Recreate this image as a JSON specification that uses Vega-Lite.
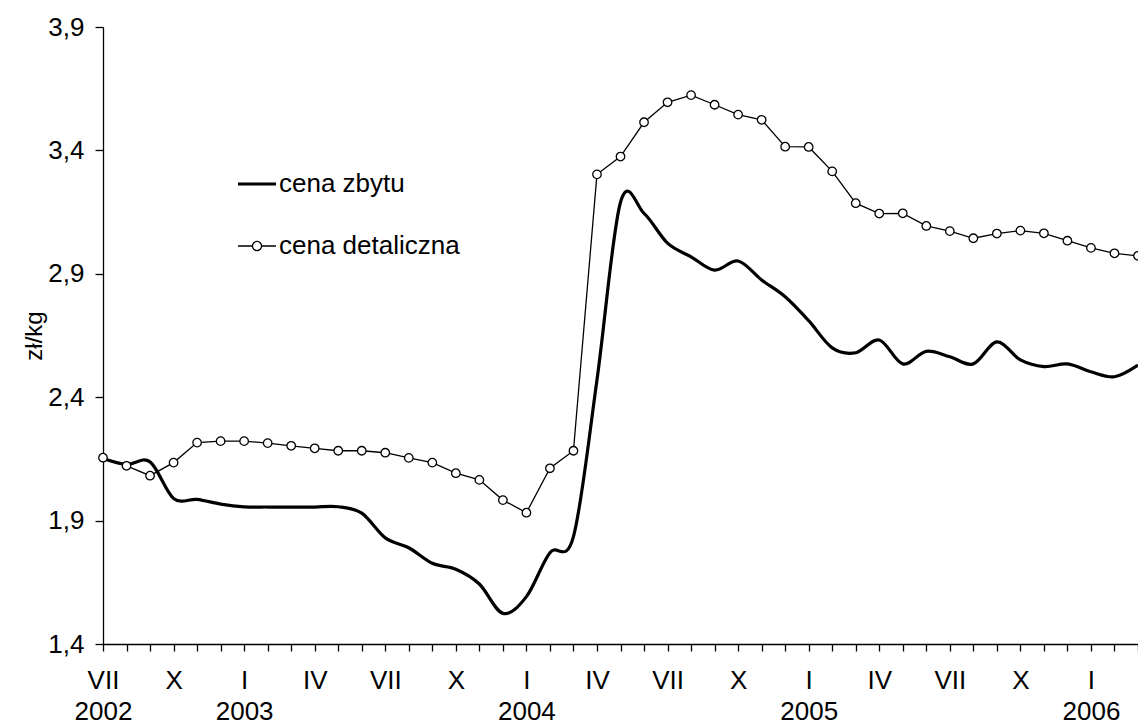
{
  "$schema": "https://vega.github.io/schema/vega-lite/v6.json",
  "width": 1035,
  "height": 617,
  "autosize": {"type": "none"},
  "padding": {"left": 103, "top": 27, "right": 0, "bottom": 80},
  "background": "white",
  "config": {
    "font": "Liberation Sans",
    "view": {"stroke": null},
    "axis": {
      "grid": false,
      "domainColor": "black",
      "domainWidth": 1.3,
      "tickColor": "black",
      "tickWidth": 1.3,
      "labelColor": "black",
      "labelFont": "Liberation Sans",
      "labelFontSize": 26,
      "titleFont": "Liberation Sans",
      "titleColor": "black",
      "titleFontWeight": "normal"
    }
  },
  "data": {
    "values": [
      {"m": 0, "s": "cena zbytu", "v": 2.152},
      {"m": 1, "s": "cena zbytu", "v": 2.128},
      {"m": 2, "s": "cena zbytu", "v": 2.138},
      {"m": 3, "s": "cena zbytu", "v": 1.99},
      {"m": 4, "s": "cena zbytu", "v": 1.986},
      {"m": 5, "s": "cena zbytu", "v": 1.967},
      {"m": 6, "s": "cena zbytu", "v": 1.956},
      {"m": 7, "s": "cena zbytu", "v": 1.955},
      {"m": 8, "s": "cena zbytu", "v": 1.955},
      {"m": 9, "s": "cena zbytu", "v": 1.955},
      {"m": 10, "s": "cena zbytu", "v": 1.956},
      {"m": 11, "s": "cena zbytu", "v": 1.93},
      {"m": 12, "s": "cena zbytu", "v": 1.83},
      {"m": 13, "s": "cena zbytu", "v": 1.79},
      {"m": 14, "s": "cena zbytu", "v": 1.727},
      {"m": 15, "s": "cena zbytu", "v": 1.703},
      {"m": 16, "s": "cena zbytu", "v": 1.643},
      {"m": 17, "s": "cena zbytu", "v": 1.524},
      {"m": 18, "s": "cena zbytu", "v": 1.592},
      {"m": 19, "s": "cena zbytu", "v": 1.77},
      {"m": 20, "s": "cena zbytu", "v": 1.835},
      {"m": 21, "s": "cena zbytu", "v": 2.47},
      {"m": 22, "s": "cena zbytu", "v": 3.19},
      {"m": 23, "s": "cena zbytu", "v": 3.145},
      {"m": 24, "s": "cena zbytu", "v": 3.024},
      {"m": 25, "s": "cena zbytu", "v": 2.969},
      {"m": 26, "s": "cena zbytu", "v": 2.915},
      {"m": 27, "s": "cena zbytu", "v": 2.952},
      {"m": 28, "s": "cena zbytu", "v": 2.875},
      {"m": 29, "s": "cena zbytu", "v": 2.807},
      {"m": 30, "s": "cena zbytu", "v": 2.71},
      {"m": 31, "s": "cena zbytu", "v": 2.6},
      {"m": 32, "s": "cena zbytu", "v": 2.58},
      {"m": 33, "s": "cena zbytu", "v": 2.632},
      {"m": 34, "s": "cena zbytu", "v": 2.535},
      {"m": 35, "s": "cena zbytu", "v": 2.586},
      {"m": 36, "s": "cena zbytu", "v": 2.564},
      {"m": 37, "s": "cena zbytu", "v": 2.535},
      {"m": 38, "s": "cena zbytu", "v": 2.624},
      {"m": 39, "s": "cena zbytu", "v": 2.551},
      {"m": 40, "s": "cena zbytu", "v": 2.524},
      {"m": 41, "s": "cena zbytu", "v": 2.535},
      {"m": 42, "s": "cena zbytu", "v": 2.503},
      {"m": 43, "s": "cena zbytu", "v": 2.483},
      {"m": 44, "s": "cena zbytu", "v": 2.53},
      {"m": 0, "s": "cena detaliczna", "v": 2.155},
      {"m": 1, "s": "cena detaliczna", "v": 2.122},
      {"m": 2, "s": "cena detaliczna", "v": 2.082},
      {"m": 3, "s": "cena detaliczna", "v": 2.135},
      {"m": 4, "s": "cena detaliczna", "v": 2.216},
      {"m": 5, "s": "cena detaliczna", "v": 2.222},
      {"m": 6, "s": "cena detaliczna", "v": 2.222},
      {"m": 7, "s": "cena detaliczna", "v": 2.214},
      {"m": 8, "s": "cena detaliczna", "v": 2.203},
      {"m": 9, "s": "cena detaliczna", "v": 2.193},
      {"m": 10, "s": "cena detaliczna", "v": 2.183},
      {"m": 11, "s": "cena detaliczna", "v": 2.183},
      {"m": 12, "s": "cena detaliczna", "v": 2.175},
      {"m": 13, "s": "cena detaliczna", "v": 2.154},
      {"m": 14, "s": "cena detaliczna", "v": 2.135},
      {"m": 15, "s": "cena detaliczna", "v": 2.092},
      {"m": 16, "s": "cena detaliczna", "v": 2.065},
      {"m": 17, "s": "cena detaliczna", "v": 1.983},
      {"m": 18, "s": "cena detaliczna", "v": 1.932},
      {"m": 19, "s": "cena detaliczna", "v": 2.112},
      {"m": 20, "s": "cena detaliczna", "v": 2.183},
      {"m": 21, "s": "cena detaliczna", "v": 3.303},
      {"m": 22, "s": "cena detaliczna", "v": 3.375},
      {"m": 23, "s": "cena detaliczna", "v": 3.514},
      {"m": 24, "s": "cena detaliczna", "v": 3.595},
      {"m": 25, "s": "cena detaliczna", "v": 3.624},
      {"m": 26, "s": "cena detaliczna", "v": 3.585},
      {"m": 27, "s": "cena detaliczna", "v": 3.545},
      {"m": 28, "s": "cena detaliczna", "v": 3.524},
      {"m": 29, "s": "cena detaliczna", "v": 3.415},
      {"m": 30, "s": "cena detaliczna", "v": 3.414},
      {"m": 31, "s": "cena detaliczna", "v": 3.315},
      {"m": 32, "s": "cena detaliczna", "v": 3.186},
      {"m": 33, "s": "cena detaliczna", "v": 3.144},
      {"m": 34, "s": "cena detaliczna", "v": 3.145},
      {"m": 35, "s": "cena detaliczna", "v": 3.094},
      {"m": 36, "s": "cena detaliczna", "v": 3.073},
      {"m": 37, "s": "cena detaliczna", "v": 3.044},
      {"m": 38, "s": "cena detaliczna", "v": 3.063},
      {"m": 39, "s": "cena detaliczna", "v": 3.075},
      {"m": 40, "s": "cena detaliczna", "v": 3.064},
      {"m": 41, "s": "cena detaliczna", "v": 3.034},
      {"m": 42, "s": "cena detaliczna", "v": 3.005},
      {"m": 43, "s": "cena detaliczna", "v": 2.983},
      {"m": 44, "s": "cena detaliczna", "v": 2.973}
    ]
  },
  "encoding": {
    "x": {
      "field": "m",
      "type": "quantitative",
      "scale": {"domain": [0, 44], "nice": false, "zero": false},
      "axis": {
        "title": null,
        "values": [0,1,2,3,4,5,6,7,8,9,10,11,12,13,14,15,16,17,18,19,20,21,22,23,24,25,26,27,28,29,30,31,32,33,34,35,36,37,38,39,40,41,42,43,44],
        "tickSize": 7,
        "labelPadding": 16,
        "labelBaseline": "top",
        "labelLineHeight": 31,
        "labelFlush": false,
        "labelOverlap": false,
        "labelExpr": "datum.value == 0 ? ['VII','2002'] : datum.value % 12 == 6 ? ['I', '' + (2002 + (datum.value + 6) / 12)] : datum.value % 12 == 9 ? 'IV' : datum.value % 12 == 0 ? 'VII' : datum.value % 12 == 3 ? 'X' : ''"
      }
    },
    "y": {
      "field": "v",
      "type": "quantitative",
      "scale": {"domain": [1.4, 3.9], "nice": false, "zero": false},
      "axis": {
        "title": "zł/kg",
        "titleFontSize": 24,
        "titlePadding": 1,
        "values": [1.4, 1.9, 2.4, 2.9, 3.4, 3.9],
        "tickSize": 8,
        "labelPadding": 11,
        "labelExpr": "replace(format(datum.value, '.1f'), '.', ',')"
      }
    }
  },
  "layer": [
    {
      "transform": [{"filter": "datum.s == 'cena detaliczna'"}],
      "mark": {"type": "line", "color": "black", "strokeWidth": 1.3},
      "encoding": {}
    },
    {
      "transform": [{"filter": "datum.s == 'cena zbytu'"}],
      "mark": {"type": "line", "strokeWidth": 3.2, "interpolate": "cardinal", "tension": 0},
      "encoding": {
        "color": {
          "field": "s",
          "type": "nominal",
          "scale": {"domain": ["cena zbytu", "cena detaliczna"], "range": ["black", "black"]},
          "legend": {
            "title": null,
            "orient": "none",
            "legendX": 141,
            "legendY": 144,
            "padding": 0,
            "rowPadding": 36,
            "labelOffset": 9,
            "labelFont": "Liberation Sans",
            "labelFontSize": 26,
            "labelColor": "black",
            "labelLimit": 400,
            "symbolSize": 1444,
            "encode": {
              "symbols": {
                "update": {
                  "shape": {"signal": "datum.value == 'cena zbytu' ? 'M-1,0H1' : 'M-1,0H-0.24M0.24,0H1M-0.24,0A0.24,0.24,0,1,1,0.24,0A0.24,0.24,0,1,1,-0.24,0Z'"},
                  "strokeWidth": {"signal": "datum.value == 'cena zbytu' ? 3.2 : 1.3"},
                  "stroke": {"value": "black"},
                  "fill": {"value": "white"},
                  "fillOpacity": {"value": 1},
                  "strokeOpacity": {"value": 1}
                }
              }
            }
          }
        }
      }
    },
    {
      "transform": [{"filter": "datum.s == 'cena detaliczna'"}],
      "mark": {"type": "point", "shape": "circle", "filled": true, "fill": "white", "stroke": "black", "strokeWidth": 1.3, "size": 72, "opacity": 1},
      "encoding": {}
    }
  ]
}
